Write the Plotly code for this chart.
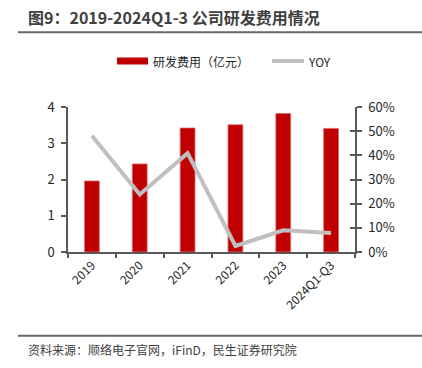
import plotly.graph_objects as go

categories = ["2019", "2020", "2021", "2022", "2023", "2024Q1-Q3"]
rd_expense = [1.96, 2.43, 3.42, 3.51, 3.82, 3.41]
yoy = [0.481, 0.238, 0.409, 0.025, 0.090, 0.079]

W, H = 422, 368
L, R, T, B = 68, 67, 107, 116
PW, PH = W - L - R, H - T - B

def px(x):
    return (x - L) / PW

def py(y):
    return (H - B - y) / PH

FONT = "'Noto Sans CJK SC', 'Noto Sans', sans-serif"
AX = "#595959"

fig = go.Figure()
fig.add_trace(go.Bar(x=categories, y=rd_expense, name="研发费用（亿元）",
                     marker=dict(color="#C00000", line=dict(color="#E06A6A", width=0.8)),
                     width=0.31, yaxis="y", showlegend=False))
fig.add_trace(go.Scatter(x=categories, y=yoy, name="YOY", mode="lines",
                         line=dict(color="#BFBFBF", width=4), yaxis="y2", showlegend=False))
# invisible trace so the inner half of the crossing ticks on the right axis is drawn
fig.add_trace(go.Scatter(x=categories, y=yoy, mode="lines", line=dict(width=0),
                         yaxis="y3", showlegend=False, hoverinfo="skip", opacity=0))

shapes = [
    dict(type="line", xref="paper", yref="paper", x0=px(18), x1=px(422), y0=py(32.3), y1=py(32.3),
         line=dict(color="#666666", width=2)),
    dict(type="line", xref="paper", yref="paper", x0=px(18), x1=px(422), y0=py(335.7), y1=py(335.7),
         line=dict(color="#666666", width=2)),
    dict(type="rect", xref="paper", yref="paper", x0=px(117), x1=px(148), y0=py(64.5), y1=py(57.5),
         fillcolor="#C00000", line=dict(width=0)),
    dict(type="line", xref="paper", yref="paper", x0=px(272), x1=px(304), y0=py(61), y1=py(61),
         line=dict(color="#BFBFBF", width=4)),
]

annotations = [
    dict(text="<b>图9：2019-2024Q1-3 公司研发费用情况</b>", xref="paper", yref="paper",
         x=px(26), y=py(17), xanchor="left", yanchor="middle", showarrow=False,
         font=dict(family=FONT, size=16, color="#404040")),
    dict(text="研发费用（亿元）", xref="paper", yref="paper", x=px(151), y=py(61),
         xanchor="left", yanchor="middle", showarrow=False,
         font=dict(family=FONT, size=12, color="#262626")),
    dict(text="YOY", xref="paper", yref="paper", x=px(306), y=py(61),
         xanchor="left", yanchor="middle", showarrow=False,
         font=dict(family=FONT, size=12, color="#262626")),
    dict(text="资料来源：顺络电子官网，iFinD，民生证券研究院", xref="paper", yref="paper",
         x=px(26), y=py(349), xanchor="left", yanchor="middle", showarrow=False,
         font=dict(family=FONT, size=12, color="#404040")),
]

fig.update_layout(
    width=W, height=H,
    margin=dict(l=L, r=R, t=T, b=B, autoexpand=False),
    paper_bgcolor="white", plot_bgcolor="white",
    font=dict(family=FONT, size=12, color="#262626"),
    showlegend=False,
    shapes=shapes, annotations=annotations,
    xaxis=dict(type="category", showline=True, linecolor=AX, linewidth=1.5,
               ticks="outside", ticklen=4, tickcolor=AX, tickwidth=1.5, tickson="boundaries",
               tickangle=-45, showgrid=False, tickfont=dict(size=12, color="#262626"),
               range=[-0.5, 5.5]),
    yaxis=dict(range=[0, 4], dtick=1, showline=True, linecolor=AX, linewidth=1.5,
               ticks="outside", ticklen=5, tickcolor=AX, tickwidth=1.5, showgrid=False,
               zeroline=False, tickfont=dict(size=13, color="#262626"), ticklabelstandoff=4),
    yaxis2=dict(range=[0, 0.6], dtick=0.1, tickformat=".0%", overlaying="y", side="right",
                showline=True, linecolor=AX, linewidth=1.5, ticks="outside", ticklen=5,
                tickcolor=AX, tickwidth=1.5, showgrid=False, zeroline=False,
                tickfont=dict(size=13, color="#262626"), ticklabelstandoff=4),
    yaxis3=dict(range=[0, 0.6], dtick=0.1, overlaying="y", side="right", showline=False,
                ticks="inside", ticklen=5, tickcolor=AX, tickwidth=1.5, showgrid=False,
                zeroline=False, showticklabels=False),
)

fig.write_html("out.html", config={"displayModeBar": False},
               post_script="document.body.style.margin='0px';")
